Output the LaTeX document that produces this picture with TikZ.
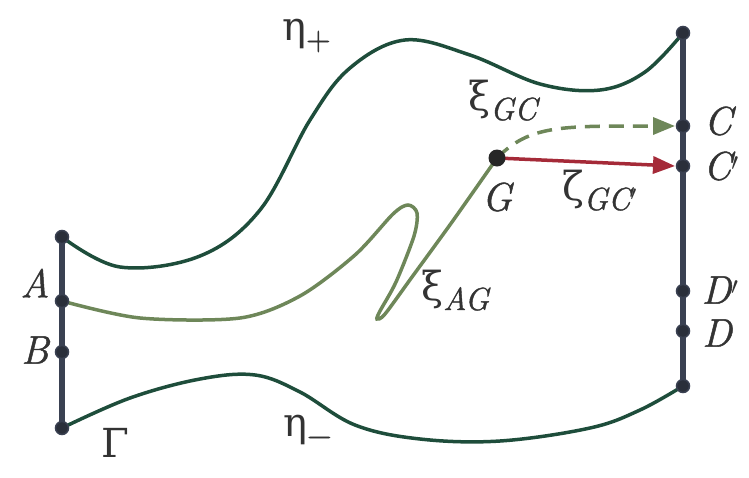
\documentclass[tikz,border=0pt]{standalone}
\usepackage{fontspec}
\newfontfamily\grk{DejaVu Serif}
\newfontfamily\lat{Latin Modern Roman}[FakeBold=1.2]
\usetikzlibrary{arrows.meta}
\definecolor{darkgreen}{HTML}{1E4D3B}
\definecolor{lightgreen}{HTML}{6E8759}
\definecolor{barcol}{HTML}{3A4152}
\definecolor{redarrow}{HTML}{A52A38}
\definecolor{dotcol}{HTML}{2A2F3A}
\tikzset{
  bar/.style={draw=barcol, line width=6pt, line cap=round},
  dot/.style={circle, fill=dotcol, draw=barcol, line width=1.5pt, inner sep=0pt, minimum size=13pt},
  bigdot/.style={circle, fill=black!85, inner sep=0pt, minimum size=17pt},
  boundary/.style={draw=darkgreen, line width=3.5pt},
  path/.style={draw=lightgreen, line width=3.5pt},
  lbl/.style={font=\fontsize{40}{48}\selectfont\lat\itshape, text=black!80, inner sep=0pt},
  glbl/.style={font=\fontsize{40}{48}\selectfont\grk, text=black!80, inner sep=0pt}
}
\newcommand{\subsc}[1]{\raisebox{-10pt}{\fontsize{32}{32}\selectfont\lat\itshape #1}}
\begin{document}
\begin{tikzpicture}[x=1pt,y=-1pt]
\useasboundingbox (0,0) rectangle (749,477);
% coordinates
\coordinate (L1) at (62,237);
\coordinate (L2) at (62,428);
\coordinate (R1) at (683,33);
\coordinate (R2) at (683,386);
\coordinate (Ap) at (62,301);
\coordinate (Bp) at (62,352);
\coordinate (Cp) at (683,126);
\coordinate (Cpp) at (683,166);
\coordinate (Dpp) at (683,291);
\coordinate (Dp) at (683,331);
\coordinate (Gp) at (497,158);
% boundaries eta
\draw[boundary] plot[smooth, tension=0.6] coordinates {(62,237) (120,267) (200,256) (260,210) (310,120) (350,68) (405,40) (470,55) (540,84) (600,90) (645,72) (683,33)};
\draw[boundary] plot[smooth, tension=0.6] coordinates {(62,428) (130,398) (200,379) (255,375) (300,392) (355,425) (420,439) (500,441) (590,428) (640,410) (683,386)};
% xi_AG
\draw[path] plot[smooth, tension=0.5] coordinates {(62,301) (140,318) (240,318) (300,296) (355,255) (393,214) (408,205) (417,213) (414,236) (396,282) (380,311) (377,319) (385,314) (412,277) (452,222) (497,158)};
% bars
\draw[bar] (L1) -- (L2);
\draw[bar] (R1) -- (R2);
% xi_GC dashed
\draw[draw=lightgreen, line width=3.5pt, dash pattern=on 15pt off 9pt, -{Triangle[length=22pt,width=17pt]}] (Gp) .. controls (530,125) and (560,126) .. ([xshift=-8pt]Cp);
% zeta
\draw[draw=redarrow, line width=3.5pt, -{Triangle[length=22pt,width=17pt]}] (Gp) -- ([xshift=-8pt]Cpp);
% dots
\foreach \p in {L1,L2,R1,R2,Ap,Bp,Cp,Cpp,Dpp,Dp}
  \node[dot] at (\p) {};
\node[bigdot] (G) at (Gp) {};
% labels
\node[lbl] (lA) at (35,283) {A};
\node[lbl] (lB) at (35,350) {B};
\node[lbl] (lC) at (718,121) {C};
\node[lbl] (lCp) at (721,166) {C$'$};
\node[lbl] (lDp) at (720,290) {D$'$};
\node[lbl] (lD) at (717,333) {D};
\node[lbl] (lG) at (497,197) {G};
\node[glbl] (lGamma) at (115,443) {Γ};
\node[glbl, anchor=base west] (etap) at (282,40) {η\raisebox{-10pt}{\fontsize{34}{34}\selectfont\lat +}};
\node[glbl, anchor=base west] (etam) at (283,436) {η\raisebox{-10pt}{\fontsize{34}{34}\selectfont\lat −}};
\node[glbl, anchor=base west] (xiGC) at (468,110) {ξ\subsc{GC}};
\node[glbl, anchor=base west] (zeta) at (562,200) {ζ\subsc{GC$'$}};
\node[glbl, anchor=base west] (xiAG) at (421,300) {ξ\subsc{AG}};
\end{tikzpicture}
\end{document}
